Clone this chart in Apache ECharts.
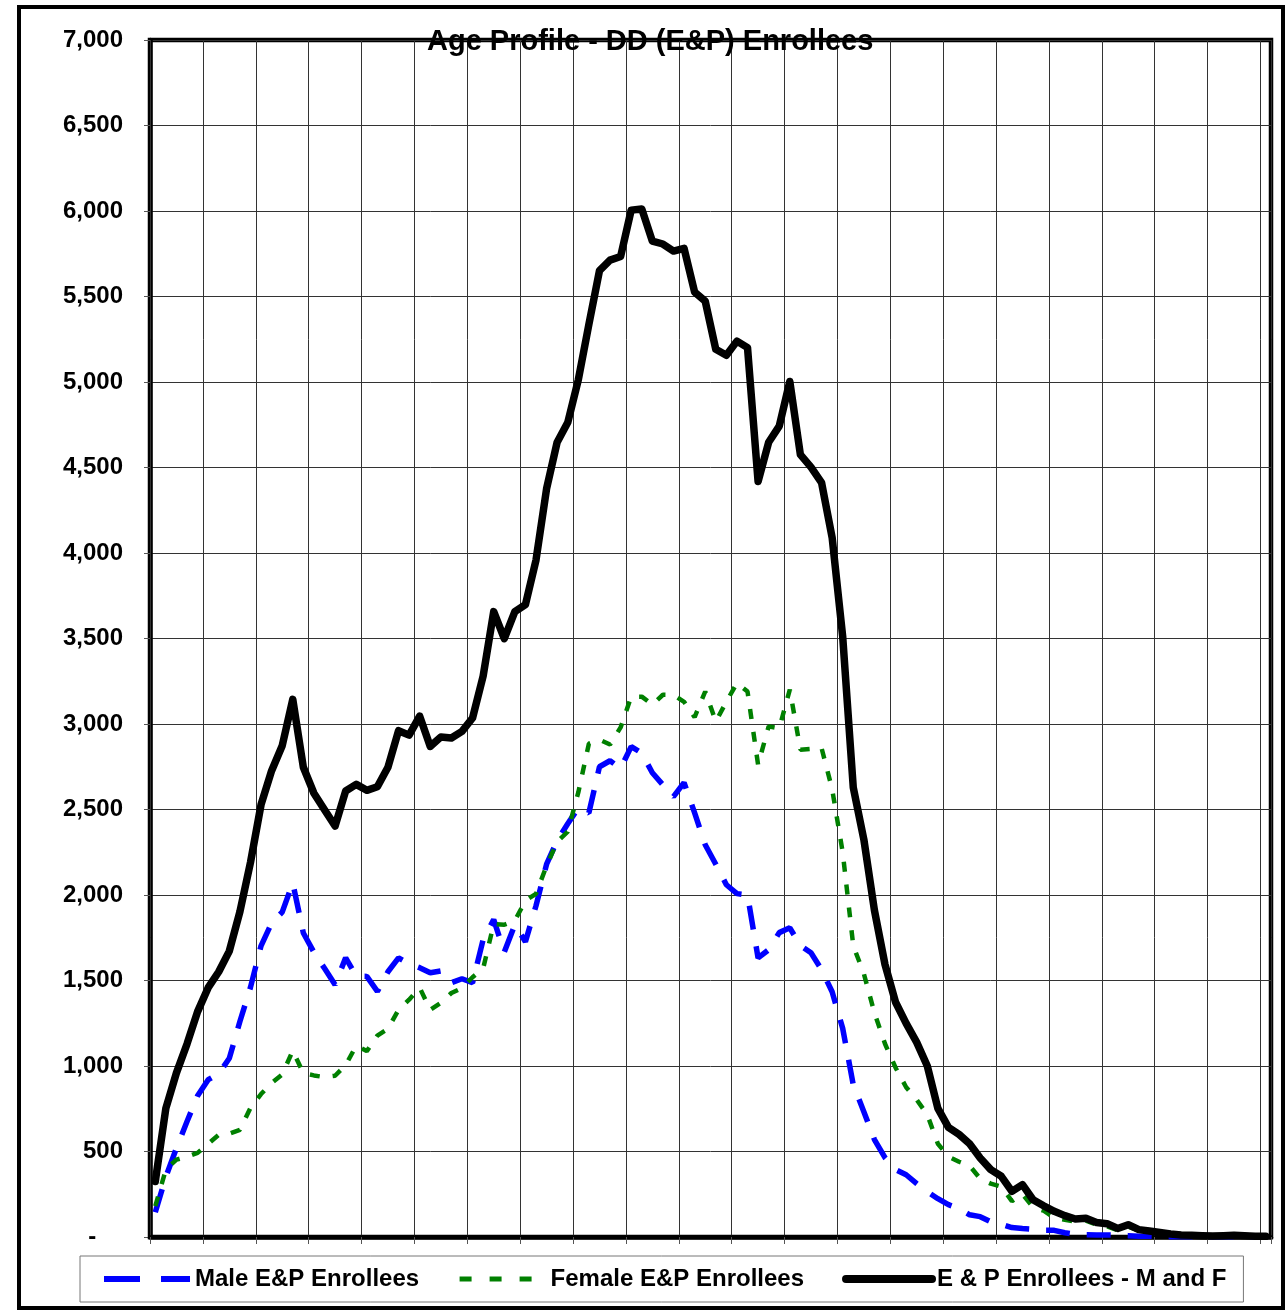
<!DOCTYPE html>
<html>
<head>
<meta charset="utf-8">
<script src="https://cdn.jsdelivr.net/npm/echarts@6/dist/echarts.min.js"></script>
<style>
  html, body { margin: 0; padding: 0; background: #fff; }
  #chart { width: 1287px; height: 1310px; }
</style>
</head>
<body>
<div id="chart"></div>
<script>
// Ages 0..105 (one category per age; no labels drawn on the axis)
const ages = Array.from({ length: 106 }, (_, i) => String(i));

const maleEP = [
  145, 352, 520, 675, 826, 920, 955, 1045, 1260, 1460,
  1703, 1836, 1900, 2071, 1778, 1665, 1571, 1475, 1633, 1525,
  1524, 1436, 1551, 1632, 1598, 1575, 1545, 1556, 1487, 1510,
  1487, 1739, 1856, 1667, 1826, 1727, 1937, 2180, 2318, 2417,
  2509, 2480, 2750, 2785, 2740, 2868, 2830, 2715, 2644, 2575,
  2657, 2480, 2294, 2180, 2060, 2008, 2000, 1632, 1680, 1780,
  1808, 1704, 1662, 1564, 1434, 1220, 890, 733, 570, 464,
  394, 364, 312, 265, 224, 189, 166, 130, 119, 89,
  75, 55, 50, 46, 39, 39, 25, 16, 13, 12,
  12, 10, 8, 5, 4, 3, 2, 2, 1, 1,
  1, 1, 1, 0, 0, 0
];

const femaleEP = [
  180, 395, 452, 470, 492, 545, 598, 604, 627, 755,
  836, 900, 950, 1090, 958, 945, 935, 943, 1005, 1119,
  1087, 1178, 1218, 1329, 1388, 1458, 1329, 1370, 1427, 1456,
  1519, 1570, 1830, 1826, 1850, 1967, 2007, 2171, 2312, 2370,
  2600, 2885, 2908, 2880, 2980, 3160, 3160, 3113, 3171, 3170,
  3130, 3040, 3190, 3015, 3130, 3240, 3190, 2762, 2986, 2975,
  3201, 2850, 2855, 2860, 2620, 2250, 1703, 1540, 1311, 1130,
  990, 876, 803, 715, 545, 470, 440, 417, 341, 312,
  294, 210, 250, 174, 154, 113, 101, 91, 95, 72,
  62, 40, 60, 38, 30, 24, 15, 10, 8, 6,
  5, 6, 9, 7, 4, 3
];

const totalEP = [
  325, 753, 960, 1129, 1318, 1458, 1551, 1672, 1902, 2190,
  2528, 2727, 2873, 3144, 2747, 2595, 2499, 2403, 2608, 2647,
  2612, 2633, 2747, 2961, 2935, 3046, 2869, 2924, 2918, 2957,
  3035, 3280, 3657, 3499, 3657, 3698, 3959, 4376, 4648, 4763,
  5013, 5337, 5651, 5713, 5734, 6005, 6012, 5824, 5807, 5766,
  5782, 5525, 5473, 5191, 5156, 5239, 5201, 4418, 4648, 4742,
  5003, 4575, 4502, 4412, 4091, 3511, 2628, 2325, 1911, 1594,
  1373, 1249, 1138, 1000, 752, 641, 600, 545, 462, 394,
  355, 267, 306, 218, 183, 150, 125, 105, 109, 85,
  78, 50, 72, 43, 35, 27, 18, 12, 10, 8,
  6, 8, 10, 8, 5, 4
];

const seriesNames = ['Male E&P Enrollees', 'Female E&P Enrollees', 'E & P Enrollees - M and F'];
const chartTitle = 'Age Profile - DD (E&P) Enrollees';

const FONT = '"Liberation Sans", Arial, Helvetica, sans-serif';
const hiddenSymbol = { opacity: 0, color: 'rgba(0,0,0,0)', borderWidth: 0 };

const chart = echarts.init(document.getElementById('chart'), null, { renderer: 'canvas' });

chart.setOption({
  animation: false,
  backgroundColor: '#fff',
  title: {
    text: chartTitle,
    left: 427,
    top: 27,
    padding: 0,
    textStyle: { fontFamily: FONT, fontSize: 29, fontWeight: 'bold', color: '#000' }
  },
  graphic: [{
    type: 'rect',
    z: -10,
    silent: true,
    shape: { x: 19, y: 7, width: 1264, height: 1301 },
    style: { fill: 'none', stroke: '#000', lineWidth: 4 }
  }],
  grid: {
    left: 150, right: 16, top: 40, bottom: 73,
    show: true, borderColor: '#000', borderWidth: 4.5, backgroundColor: 'transparent'
  },
  legend: {
    left: 80,
    top: 1256,
    padding: [11, 17, 11, 21],
    itemGap: 38,
    itemWidth: 86,
    itemHeight: 23,
    borderColor: '#777',
    borderWidth: 1,
    itemStyle: hiddenSymbol,
    textStyle: { fontFamily: FONT, fontSize: 24, fontWeight: 'bold', color: '#000' },
    data: [
      { name: seriesNames[0], itemStyle: hiddenSymbol, lineStyle: { type: [36, 21], width: 6, color: '#0000FF' } },
      { name: seriesNames[1], itemStyle: hiddenSymbol, lineStyle: { type: [12, 18], width: 5, color: '#008000' } },
      { name: seriesNames[2], itemStyle: hiddenSymbol, lineStyle: { type: 'solid', width: 8, color: '#000', cap: 'round' } }
    ]
  },
  xAxis: {
    type: 'category',
    data: ages,
    boundaryGap: true,
    z: 3,
    axisLine: { show: true, lineStyle: { color: '#000', width: 4.5 } },
    axisTick: { show: true, interval: 4, length: 7, lineStyle: { color: '#555', width: 1 } },
    axisLabel: { show: false },
    splitLine: { show: true, interval: 4, lineStyle: { color: '#333', width: 1 } }
  },
  yAxis: {
    type: 'value',
    min: 0,
    max: 7000,
    interval: 500,
    axisLine: { show: true, lineStyle: { color: '#000', width: 4.5 } },
    axisTick: { show: true, length: 6, lineStyle: { color: '#555', width: 1 } },
    axisLabel: {
      margin: 27,
      fontFamily: FONT, fontSize: 24, fontWeight: 'bold', color: '#000',
      formatter: v => v === 0 ? '-    ' : v.toLocaleString('en-US')
    },
    splitLine: { show: true, lineStyle: { color: '#333', width: 1 } }
  },
  series: [
    {
      name: seriesNames[0], type: 'line', data: maleEP,
      symbol: 'none', showSymbol: false,
      lineStyle: { color: '#0000FF', width: 5.5, type: [24, 17] },
      itemStyle: { color: '#0000FF' }
    },
    {
      name: seriesNames[1], type: 'line', data: femaleEP,
      symbol: 'none', showSymbol: false,
      lineStyle: { color: '#008000', width: 4.5, type: [10, 13] },
      itemStyle: { color: '#008000' }
    },
    {
      name: seriesNames[2], type: 'line', data: totalEP,
      symbol: 'none', showSymbol: false,
      lineStyle: { color: '#000', width: 7.5, type: 'solid', cap: 'round', join: 'round' },
      itemStyle: { color: '#000' }
    }
  ]
});
</script>
</body>
</html>
